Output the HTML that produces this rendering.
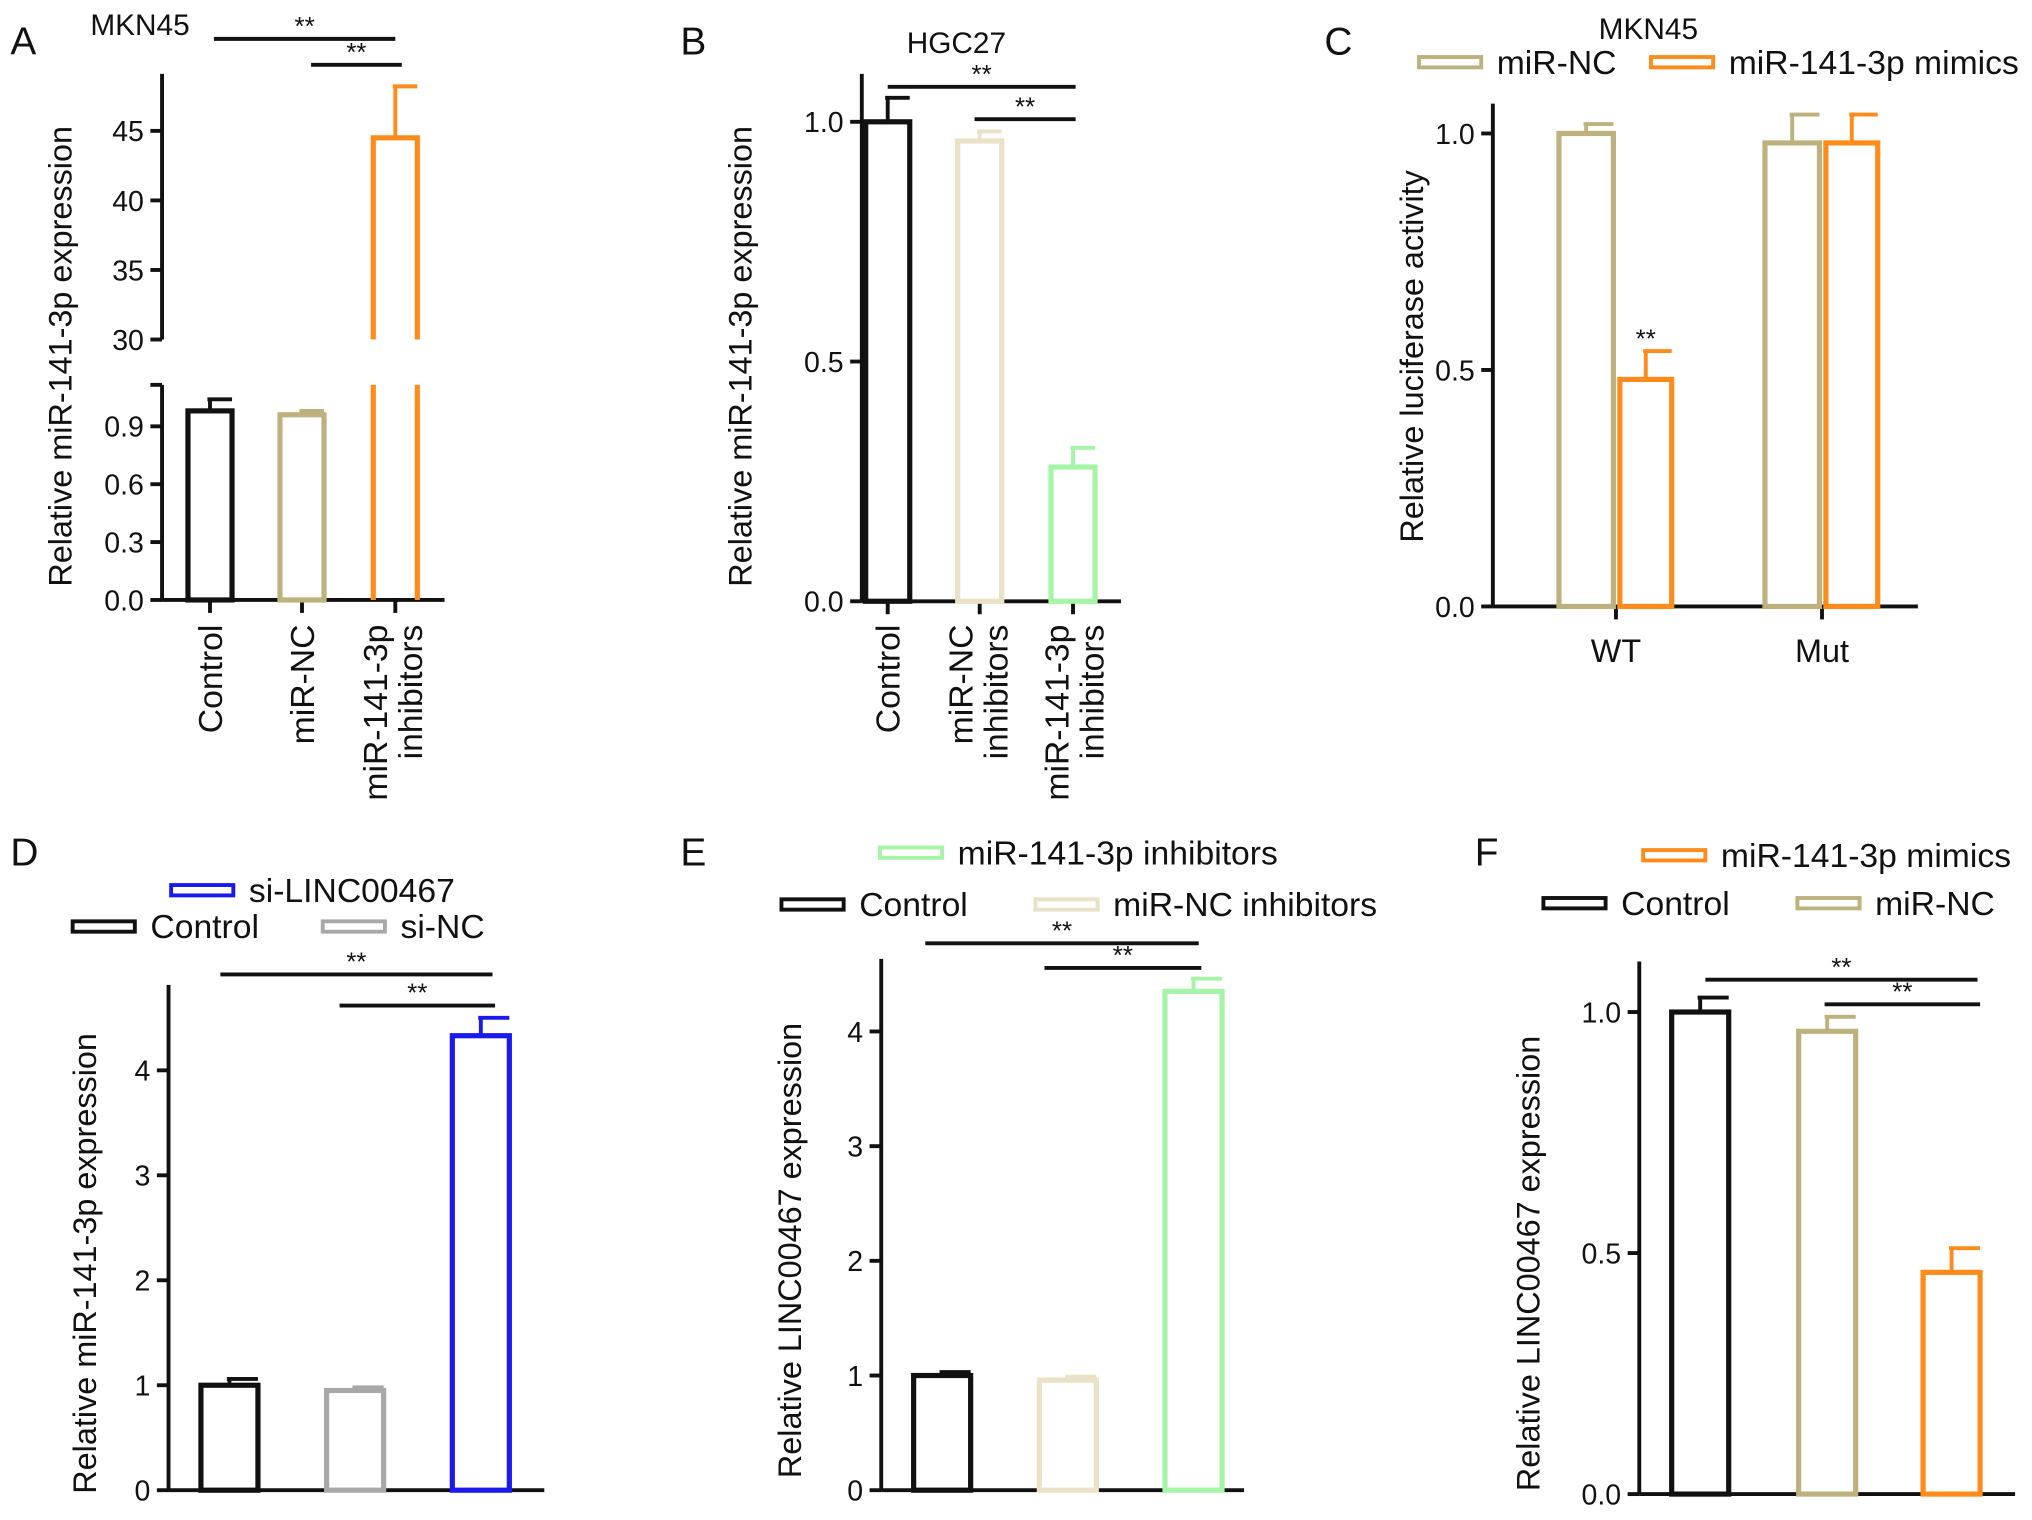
<!DOCTYPE html>
<html><head><meta charset="utf-8"><style>
html,body{margin:0;padding:0;background:#fff}
svg{display:block}
text{font-family:"Liberation Sans",Arial,sans-serif;fill:#111}
</style></head><body>
<svg id="fig" width="2032" height="1520" viewBox="0 0 1568 1173"></svg>
<script>
// Panel A data
const aCats=["Control","miR-NC","miR-141-3p inhibitors"];
const aVals=[0.98,0.96,44.5];
const aErr=[0.06,0.02,3.7];
const aTicksLow=[0,0.3,0.6,0.9];
const aTicksHigh=[30,35,40,45];
// Panel B data
const bCats=["Control","miR-NC inhibitors","miR-141-3p inhibitors"];
const bVals=[1.0,0.96,0.28];
const bErr=[0.05,0.02,0.04];
const bTicks=[0,0.5,1.0];
// Panel C data
const cGroups=["WT","Mut"];
const cNC=[1.0,0.98];
const cNCErr=[0.02,0.06];
const cMim=[0.48,0.98];
const cMimErr=[0.06,0.06];
const cTicks=[0,0.5,1.0];
// Panel D data
const dCats=["Control","si-NC","si-LINC00467"];
const dVals=[1.0,0.95,4.33];
const dErr=[0.06,0.03,0.17];
const dTicks=[0,1,2,3,4];
// Panel E data
const eCats=["Control","miR-NC inhibitors","miR-141-3p inhibitors"];
const eVals=[1.0,0.96,4.35];
const eErr=[0.03,0.03,0.11];
const eTicks=[0,1,2,3,4];
// Panel F data
const fCats=["Control","miR-NC","miR-141-3p mimics"];
const fVals=[1.0,0.96,0.46];
const fErr=[0.03,0.03,0.05];
const fTicks=[0.0,0.5,1.0];

const NS="http://www.w3.org/2000/svg";
const svg=document.getElementById('fig');
function el(tag,attrs,parent,txt){const e=document.createElementNS(NS,tag);for(const k in attrs)e.setAttribute(k,attrs[k]);if(txt!==undefined)e.textContent=txt;(parent||svg).appendChild(e);return e;}
function line(x1,y1,x2,y2,c,w,p){return el('line',{x1,y1,x2,y2,stroke:c||'#111','stroke-width':w||3},p);}
function txt(x,y,s,size,anchor,p,extra){const t=el('text',Object.assign({x,y,'font-size':size||20,'text-anchor':anchor||'middle'},extra||{}),p,s);return t;}
function fmt(v,d){return v.toFixed(d);}
function bar(p,cx,w,y0,yv,ye,color){
  const g=el('g',{},p);
  
  
  el('rect',{x:cx-w/2,y:yv,width:w,height:y0-yv,fill:'#fff',stroke:color,'stroke-width':4},g);
  line(cx,yv,cx,ye,color,3,g);
  line(cx-2,ye,cx+w/2,ye,color,3,g);
  return g;
}
function yAxis(p,x,yTop,yBot,ticks,scale,dec){
  line(x,yTop,x,yBot,'#111',3,p);
  ticks.forEach(t=>{const y=scale(t);line(x-9,y,x,y,'#111',3,p);txt(x-14,y+8,fmt(t,dec),22,'end',p);});
}
function sig(p,x1,x2,y){line(x1,y,x2,y,'#111',3,p);txt((x1+x2)/2,y-3,'**',20,'middle',p);}
function legend(p,x,y,color,label){const g=el('g',{},p);
  el('rect',{x:x,y:y-4,width:48,height:8,fill:'#fff',stroke:color,'stroke-width':3},g);txt(x+60,y+9,label,26,'start',g);}
function panel(name){const g=el('g',{});return g;}
function rotLabel(p,x,y,lines){lines.forEach((s,i)=>{const xx=x+(i-(lines.length-1)/2)*27;txt(xx,y,s,26,'end',p,{transform:`rotate(-90 ${xx} ${y})`,dy:'0.35em'});});}
function yTitle(p,x,y,s){txt(x,y,s,25,'middle',p,{transform:`rotate(-90 ${x} ${y})`});}

// ---------- Panel A ----------
(function(){
 const p=panel('panel-a');
 txt(8,42,'A',30,'start',p);
 txt(108,27,'MKN45',23,'middle',p);
 const ax=125, y0=463, low=v=>y0-v*(463-329)/0.9, high=v=>262-(v-30)*(262-101)/15;
 yAxis(p,ax,297,463,aTicksLow,low,1);
 yAxis(p,ax,57,262,aTicksHigh,high,0);
 line(ax-9,297,ax,297,'#111',3,p);
 line(ax,463,343,463,'#111',3,p);
 const xs=[162,233,305], cols=['#111','#bdb27e','#ff8c1a'];
 aCats.forEach((c,i)=>{
  const v=aVals[i];
  line(xs[i],463,xs[i],473,'#111',3,p);
  if(v<=1.1){bar(p,xs[i],34,y0,low(v),low(v+aErr[i]),cols[i]);}
  else{
   const g=el('g',{},p);
   
   
   line(xs[i]-17,297,xs[i]-17,463,cols[i],4,g);line(xs[i]+17,297,xs[i]+17,463,cols[i],4,g);
   el('polyline',{points:`${xs[i]-17},262 ${xs[i]-17},${high(v)} ${xs[i]+17},${high(v)} ${xs[i]+17},262`,fill:'none',stroke:cols[i],'stroke-width':4},g);
   line(xs[i],high(v),xs[i],high(v+aErr[i]),cols[i],3,g);line(xs[i]-2,high(v+aErr[i]),xs[i]+17,high(v+aErr[i]),cols[i],3,g);
  }
 });
 rotLabel(p,162,482,['Control']);rotLabel(p,233,482,['miR-NC']);rotLabel(p,303,482,['miR-141-3p','inhibitors']);
 yTitle(p,55,275,'Relative miR-141-3p expression');
 sig(p,165,305,30);sig(p,240,310,50);
})();

// ---------- Panel B ----------
(function(){
 const p=panel('panel-b');
 txt(525,42,'B',30,'start',p);
 txt(738,41,'HGC27',23,'middle',p);
 const ax=665, s=v=>464-v*370;
 yAxis(p,ax,57,464,bTicks,s,1);
 line(ax,464,865,464,'#111',3,p);
 const xs=[685,756,828], cols=['#111','#e9e2c6','#a6f5a6'];
 bCats.forEach((c,i)=>{line(xs[i],464,xs[i],474,'#111',3,p);bar(p,xs[i],34,464,s(bVals[i]),s(bVals[i]+bErr[i]),cols[i]);});
 rotLabel(p,685,482,['Control']);rotLabel(p,755,482,['miR-NC','inhibitors']);rotLabel(p,829,482,['miR-141-3p','inhibitors']);
 yTitle(p,580,275,'Relative miR-141-3p expression');
 sig(p,685,830,67);sig(p,752,830,92);
})();

// ---------- Panel C ----------
(function(){
 const p=panel('panel-c');
 txt(1022,42,'C',30,'start',p);
 txt(1272,30,'MKN45',23,'middle',p);
 legend(p,1095,48,'#bdb27e','miR-NC');legend(p,1274,48,'#ff8c1a','miR-141-3p mimics');
 const ax=1152, s=v=>468-v*365;
 yAxis(p,ax,80,468,cTicks,s,1);
 line(ax,468,1480,468,'#111',3,p);
 const gx=[1247,1406];
 cGroups.forEach((gname,i)=>{
  line(gx[i],468,gx[i],478,'#111',3,p);
  bar(p,gx[i]-23,42,468,s(cNC[i]),s(cNC[i]+cNCErr[i]),'#bdb27e');
  bar(p,gx[i]+23,40,468,s(cMim[i]),s(cMim[i]+cMimErr[i]),'#ff8c1a');
  txt(gx[i],511,gname,25,'middle',p);
 });
 txt(1270,268,'**',20,'middle',p);
 yTitle(p,1098,275,'Relative luciferase activity');
})();

// ---------- Panel D ----------
(function(){
 const p=panel('panel-d');
 txt(8,668,'D',30,'start',p);
 legend(p,132,687,'#1a1aee','si-LINC00467');legend(p,56,715,'#111','Control');legend(p,249,715,'#a8a8a8','si-NC');
 const ax=130, s=v=>1150-v*81;
 yAxis(p,ax,760,1150,dTicks,s,0);
 line(ax,1150,420,1150,'#111',3,p);
 const xs=[177,274,371], cols=['#111','#a8a8a8','#1a1aee'];
 dCats.forEach((c,i)=>bar(p,xs[i],44,1150,s(dVals[i]),s(dVals[i]+dErr[i]),cols[i]));
 sig(p,170,380,752);sig(p,262,382,776);
 yTitle(p,74,975,'Relative miR-141-3p expression');
})();

// ---------- Panel E ----------
(function(){
 const p=panel('panel-e');
 txt(525,668,'E',30,'start',p);
 legend(p,679,658,'#a6f5a6','miR-141-3p inhibitors');legend(p,603,698,'#111','Control');legend(p,799,698,'#e9e2c6','miR-NC inhibitors');
 const ax=680, s=v=>1150-v*88.5;
 yAxis(p,ax,740,1150,eTicks,s,0);
 line(ax,1150,960,1150,'#111',3,p);
 const xs=[727,824,921], cols=['#111','#e9e2c6','#a6f5a6'];
 eCats.forEach((c,i)=>bar(p,xs[i],44,1150,s(eVals[i]),s(eVals[i]+eErr[i]),cols[i]));
 sig(p,714,925,728);sig(p,806,927,747);
 yTitle(p,618,965,'Relative LINC00467 expression');
})();

// ---------- Panel F ----------
(function(){
 const p=panel('panel-f');
 txt(1138,668,'F',30,'start',p);
 legend(p,1268,660,'#ff8c1a','miR-141-3p mimics');legend(p,1191,697,'#111','Control');legend(p,1387,697,'#bdb27e','miR-NC');
 const ax=1265, s=v=>1153-v*372;
 yAxis(p,ax,742,1153,fTicks,s,1);
 line(ax,1153,1555,1153,'#111',3,p);
 const xs=[1312,1410,1506], cols=['#111','#bdb27e','#ff8c1a'];
 fCats.forEach((c,i)=>bar(p,xs[i],44,1153,s(fVals[i]),s(fVals[i]+fErr[i]),cols[i]));
 sig(p,1316,1526,756);sig(p,1408,1528,775);
 yTitle(p,1188,975,'Relative LINC00467 expression');
})();
</script>
</body></html>
